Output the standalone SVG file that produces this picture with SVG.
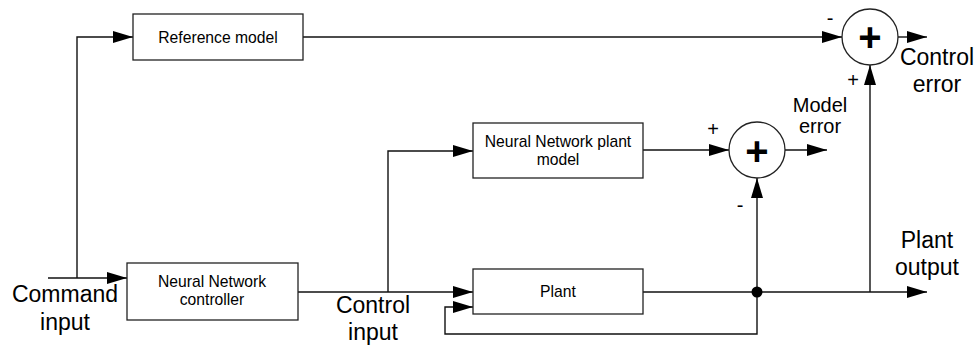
<svg xmlns="http://www.w3.org/2000/svg" width="980" height="347" viewBox="0 0 980 347">
<style>
.box{fill:#fff;stroke:#222;stroke-width:1.3}
.sum{fill:#fff;stroke:#222;stroke-width:1.3}
.ln{fill:none;stroke:#111;stroke-width:1.4}
.arr{marker-end:url(#ah)}
.t{font-family:"Liberation Sans",Arial,sans-serif;fill:#000;text-anchor:middle}
.s{font-size:15.7px}
.b{font-size:23px}
.m{font-size:20px}
.p{font-size:40px;font-weight:bold}
</style>
<defs>
<marker id="ah" markerUnits="userSpaceOnUse" markerWidth="20" markerHeight="12" refX="20" refY="6" orient="auto">
<path d="M0,0 L20,6 L0,12 z" fill="#000"/>
</marker>
</defs>
<rect width="980" height="347" fill="#fff"/>
<g id="connectors">
<path class="ln arr" d="M48,278 H127"/>
<path class="ln arr" d="M77,278 V37 H133"/>
<path class="ln arr" d="M303,37 H842"/>
<path class="ln arr" d="M898,37 H927"/>
<path class="ln arr" d="M298,292 H473"/>
<path class="ln arr" d="M388,292 V151 H473"/>
<path class="ln arr" d="M643,150 H729"/>
<path class="ln arr" d="M785,150 H827"/>
<path class="ln arr" d="M643,292 H927"/>
<path class="ln arr" d="M757,292 V178"/>
<path class="ln arr" d="M757,292 V334 H445 V307 H473"/>
<path class="ln arr" d="M870,292 V65"/>
<circle cx="757" cy="292" r="5.5" fill="#000"/>
</g>
<g id="reference-model">
<rect class="box" x="133" y="14" width="170" height="46"/>
<text class="t s" x="218" y="43">Reference model</text>
</g>
<g id="nn-controller">
<rect class="box" x="127" y="263" width="171" height="57"/>
<text class="t s" x="212" y="287">Neural Network</text>
<text class="t s" x="212" y="305">controller</text>
</g>
<g id="nn-plant-model">
<rect class="box" x="473" y="123" width="170" height="55"/>
<text class="t s" x="558" y="147">Neural Network plant</text>
<text class="t s" x="558" y="165">model</text>
</g>
<g id="plant">
<rect class="box" x="473" y="269" width="170" height="45"/>
<text class="t s" x="558" y="297">Plant</text>
</g>
<g id="sum-control">
<circle class="sum" cx="870" cy="37" r="28"/>
<text class="t p" x="870" y="51">+</text>
<text class="t m" x="830" y="25">-</text>
<text class="t m" x="853" y="87">+</text>
</g>
<g id="sum-model">
<circle class="sum" cx="757" cy="150" r="28"/>
<text class="t p" x="757" y="165">+</text>
<text class="t m" x="713" y="136">+</text>
<text class="t m" x="740" y="212">-</text>
</g>
<g id="labels">
<text class="t b" x="65" y="302">Command</text>
<text class="t b" x="65" y="330">input</text>
<text class="t b" x="373" y="313">Control</text>
<text class="t b" x="373" y="340">input</text>
<text class="t m" x="820" y="112">Model</text>
<text class="t m" x="820" y="133">error</text>
<text class="t b" x="937" y="65">Control</text>
<text class="t b" x="937" y="92">error</text>
<text class="t b" x="927" y="248">Plant</text>
<text class="t b" x="927" y="275">output</text>
</g>
</svg>
